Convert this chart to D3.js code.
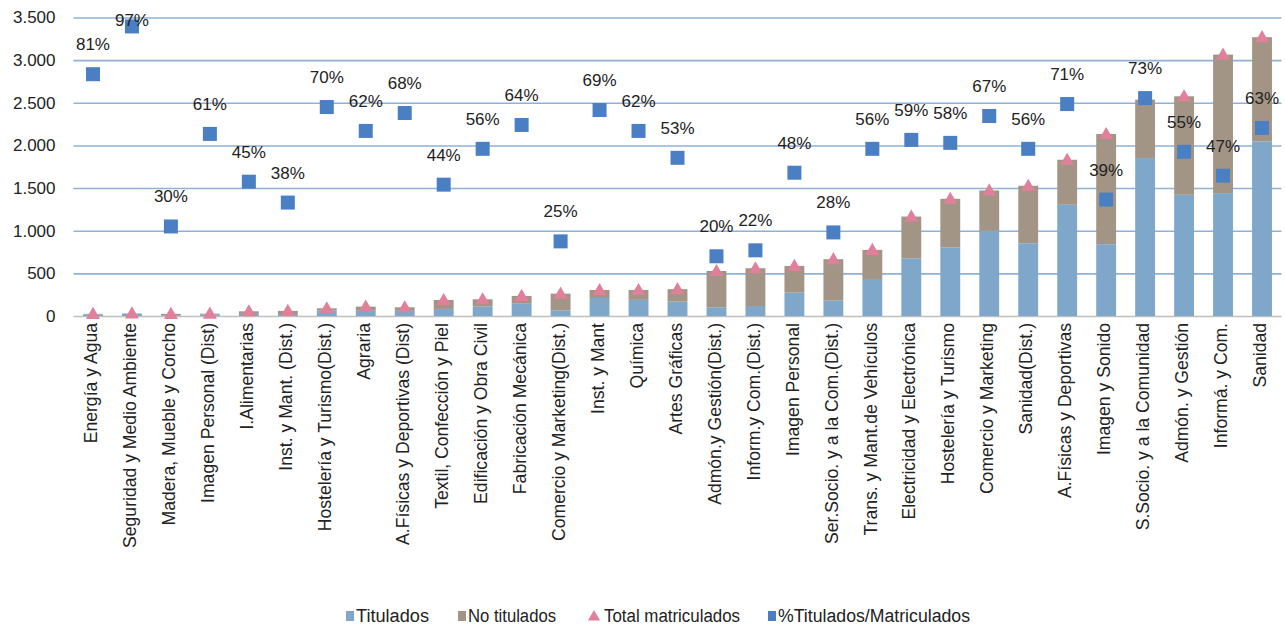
<!DOCTYPE html>
<html><head><meta charset="utf-8">
<script src="https://cdn.jsdelivr.net/npm/d3@7"></script>
<style>
html,body{margin:0;padding:0;background:#fff;}
text{font-family:"Liberation Sans",Arial,sans-serif;}
</style></head>
<body><svg id="chart" width="1285" height="629"></svg>
<script>
const categories = ["Energía y Agua","Seguridad y Medio Ambiente","Madera, Mueble y Corcho","Imagen Personal (Dist)","I.Alimentarias","Inst. y Mant. (Dist.)","Hostelería y Turismo(Dist.)","Agraria","A.Físicas y Deportivas (Dist)","Textil, Confección y Piel","Edificación y Obra Civil","Fabricación Mecánica","Comercio y Marketing(Dist.)","Inst. y Mant","Química","Artes Gráficas","Admón.y Gestión(Dist.)","Inform.y Com.(Dist.)","Imagen Personal","Ser.Socio. y a la Com.(Dist.)","Trans. y Mant.de Vehículos","Electricidad y Electrónica","Hostelería y Turismo","Comercio y Marketing","Sanidad(Dist.)","A.Físicas y Deportivas","Imagen y Sonido","S.Socio. y a la Comunidad","Admón. y Gestión","Informá. y Com.","Sanidad"];
const titulados = [20,29,8,17,25,23,63,68,69,83,110,150,66,211,189,168,102,117,274,180,434,677,802,998,853,1304,842,1852,1421,1441,2047];
const noTitulados = [5,1,17,11,30,37,27,42,33,105,86,85,196,94,116,147,426,443,313,486,341,489,572,474,674,528,1292,685,1155,1624,1222];
const totalMatriculados = [25,30,25,28,55,60,90,110,102,188,196,235,262,305,305,315,528,560,587,666,775,1166,1374,1472,1527,1832,2134,2537,2576,3065,3269];
const pctTitulados = [81,97,30,61,45,38,70,62,68,44,56,64,25,69,62,53,20,22,48,28,56,59,58,67,56,71,39,73,55,47,63];
const yTicks = [0,500,1000,1500,2000,2500,3000,3500];
const legendLabels = ["Titulados","No titulados","Total matriculados","%Titulados/Matriculados"];

const colTit = "#7FA7CA", colNo = "#A39586", colTri = "#E0809A", colSq = "#4A7FC4", colGrid = "#8FB1D8";

const svg = d3.select("#chart");
const x0 = 73.5, x1 = 1281.5, yBase = 316, yTop = 17.5;
const x = d3.scaleBand().domain(categories).range([x0, x1]).paddingInner(0.49).paddingOuter(0.245);
const y = d3.scaleLinear().domain([0, 3500]).range([yBase, yTop]);
const yPct = d3.scaleLinear().domain([0, 100]).range([yBase, yTop]);
const fmt = d3.formatLocale({decimal:",", thousands:".", grouping:[3], currency:["","€"]}).format(",d");

// grid
const yAxis = d3.axisLeft(y).tickValues(yTicks).tickFormat(fmt).tickSize(-(x1 - x0)).tickPadding(18);
const gy = svg.append("g").attr("transform", `translate(${x0},0)`).call(yAxis);
gy.select(".domain").remove();
gy.selectAll(".tick line").attr("stroke", d => d === 0 ? "#BFBFBF" : colGrid).attr("stroke-width", 1.6);
gy.selectAll(".tick text").attr("font-size", 17).attr("fill", "#222");

// bars
const stackData = categories.map((c, i) => ({c, t: titulados[i], n: noTitulados[i]}));
svg.append("g").selectAll("rect").data(stackData).join("rect")
  .attr("x", d => x(d.c)).attr("width", x.bandwidth())
  .attr("y", d => y(d.t)).attr("height", d => y(0) - y(d.t)).attr("fill", colTit);
svg.append("g").selectAll("rect").data(stackData).join("rect")
  .attr("x", d => x(d.c)).attr("width", x.bandwidth())
  .attr("y", d => y(d.t + d.n)).attr("height", d => y(d.t) - y(d.t + d.n)).attr("fill", colNo);

// triangles
const tri = d3.symbol().type(d3.symbolTriangle).size(85);
svg.append("g").selectAll("path").data(categories).join("path")
  .attr("d", tri)
  .attr("transform", (c, i) => `translate(${x(c) + x.bandwidth() / 2},${y(totalMatriculados[i]) + 1})`)
  .attr("fill", colTri);

// squares
const sq = 14;
svg.append("g").selectAll("rect").data(categories).join("rect")
  .attr("x", c => x(c) + x.bandwidth() / 2 - sq / 2)
  .attr("y", (c, i) => yPct(pctTitulados[i]) - sq / 2)
  .attr("width", sq).attr("height", sq).attr("fill", colSq);

// pct labels
svg.append("g").selectAll("text").data(categories).join("text")
  .attr("x", c => x(c) + x.bandwidth() / 2)
  .attr("y", (c, i) => Math.max(yPct(pctTitulados[i]) - 30, 20))
  .attr("dy", "0.35em").attr("text-anchor", "middle")
  .attr("font-size", 17).attr("fill", "#222")
  .text((c, i) => pctTitulados[i] + "%");

// x labels
svg.append("g").selectAll("text").data(categories).join("text")
  .attr("transform", c => `translate(${x(c) + x.bandwidth() / 2 - 2},323) rotate(-90)`)
  .attr("dy", "0.35em").attr("text-anchor", "end")
  .attr("font-size", 17.6).attr("fill", "#222")
  .text(c => c);

// legend
const lg = svg.append("g");
const items = [
  {label: legendLabels[0], type: "sq", color: colTit, x: 346, w: 73},
  {label: legendLabels[1], type: "sq", color: colNo, x: 458, w: 88},
  {label: legendLabels[2], type: "tri", color: colTri, x: 589, w: 136},
  {label: legendLabels[3], type: "sq", color: colSq, x: 768, w: 192}
];
const ly = 616;
items.forEach(it => {
  if (it.type === "sq") {
    lg.append("rect").attr("x", it.x).attr("y", ly - 5).attr("width", 8).attr("height", 10).attr("fill", it.color);
  } else {
    lg.append("path").attr("d", d3.symbol().type(d3.symbolTriangle).size(65)).attr("transform", `translate(${it.x + 5},${ly + 1})`).attr("fill", it.color);
  }
  lg.append("text").attr("x", it.x + (it.type === "sq" ? 10 : 15)).attr("y", ly).attr("dy", "0.35em")
    .attr("font-size", 18).attr("fill", "#222")
    .attr("textLength", it.w).attr("lengthAdjust", "spacingAndGlyphs")
    .text(it.label);
});
</script></body></html>
